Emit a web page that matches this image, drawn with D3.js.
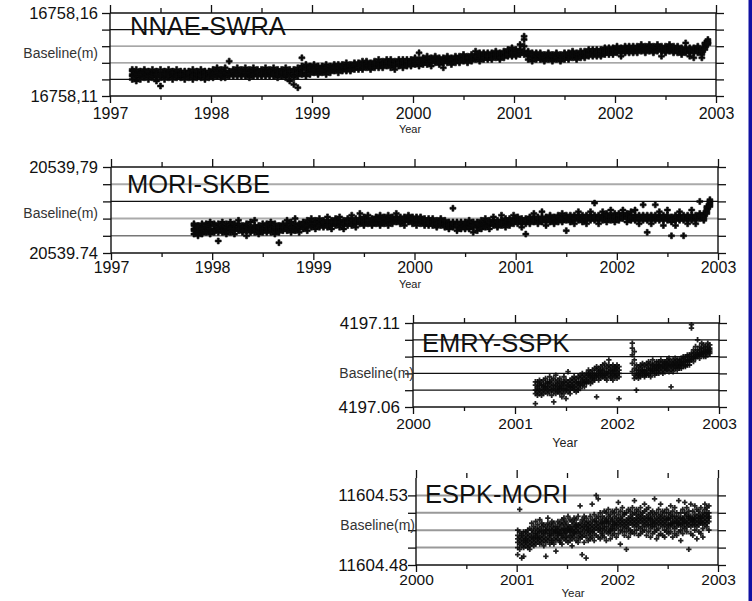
<!DOCTYPE html>
<html><head><meta charset="utf-8">
<script src="https://cdn.jsdelivr.net/npm/d3@7"></script>
<style>body{margin:0;background:#fff}svg{display:block;font-family:"Liberation Sans",Arial,sans-serif}</style>
</head><body><svg id="c" width="752" height="601"></svg>
<script>
// ---------- DATA ----------
const names = ["NNAE-SWRA","MORI-SKBE","EMRY-SSPK","ESPK-MORI"];
const bases = [16758.11, 20539.74, 4197.06, 11604.48];           // baseline (m) at the lowest tick
const yTickLabels = [["16758,11","16758,16"],["20539.74","20539,79"],["4197.06","4197.11"],["11604.48","11604.53"]];
const yearsLong = [1997,1998,1999,2000,2001,2002,2003];
const halfYearsLong = [1997.5,1998.5,1999.5,2000.5,2001.5,2002.5];
const yearsShort = [2000,2001,2002,2003];
const halfYearsShort = [2000.5,2001.5,2002.5];
// rows: [decimal year, baseline offsets in mm above base ...]
const p1Rows = [
[1997.22,13,10,15,12,16],[1997.26,14,11,13,16,9],[1997.30,12,15,10,14,13],[1997.34,15,12,11,14,16],[1997.38,13,10,14,12,15],
[1997.42,11,14,16,13,12],[1997.46,14,12,9,15,13],[1997.50,13,16,11,12,6],[1997.54,12,10,14,15,13],[1997.58,14,11,13,16,12],
[1997.62,12,15,10,13,14],[1997.66,13,11,14,12,16],[1997.70,11,14,12,15,13],[1997.74,14,12,10,13,15],[1997.78,12,15,13,11,14],
[1997.82,13,10,14,16,12],[1997.86,12,14,11,13,15],[1997.90,14,11,13,12,16],[1997.94,13,15,10,14,12],[1997.98,12,14,13,11,15],
[1998.02,14,12,16,13,11],[1998.06,13,15,12,14,17],[1998.10,12,14,16,11,13],[1998.14,15,13,11,14,17],[1998.18,14,12,15,13,21],
[1998.22,13,16,12,14,15],[1998.26,15,12,14,17,13],[1998.30,14,16,12,13,15],[1998.34,13,15,17,12,14],[1998.38,15,13,11,16,14],
[1998.42,14,17,12,15,13],[1998.46,16,13,15,12,14],[1998.50,14,12,16,15,13],[1998.54,15,13,17,14,12],[1998.58,13,16,14,12,15],
[1998.62,15,12,14,17,13],[1998.66,14,16,11,15,13],[1998.70,16,13,15,12,14],[1998.74,15,11,17,13,14],[1998.78,14,16,12,9,15],
[1998.82,13,16,15,11,7],[1998.86,15,12,17,14,5],[1998.90,16,14,13,18,23],[1998.94,17,14,16,12,19],[1998.98,15,18,13,16,17],
[1999.02,17,15,19,14,16],[1999.06,16,14,18,17,13],[1999.10,18,15,17,14,16],[1999.14,16,19,15,13,17],[1999.18,17,15,18,16,14],
[1999.22,15,18,16,19,17],[1999.26,18,16,14,17,19],[1999.30,17,19,16,15,18],[1999.34,16,18,20,17,15],[1999.38,19,17,15,18,16],
[1999.42,17,20,18,16,19],[1999.46,18,16,19,17,20],[1999.50,19,17,21,18,16],[1999.54,18,20,17,19,21],[1999.58,20,18,16,19,17],
[1999.62,19,21,18,17,20],[1999.66,18,20,19,22,17],[1999.70,20,18,21,19,17],[1999.74,19,22,20,18,21],[1999.78,21,19,17,20,22],
[1999.82,20,18,21,19,16],[1999.86,19,21,18,22,20],[1999.90,21,19,20,17,22],[1999.94,20,22,19,21,18],[1999.98,21,19,22,20,18],
[2000.02,20,22,19,21,23],[2000.06,22,20,18,21,26],[2000.10,21,23,20,19,22],[2000.14,20,22,21,24,19],[2000.18,22,20,23,21,18],
[2000.22,21,23,20,22,24],[2000.26,23,21,19,22,20],[2000.30,22,20,23,21,17],[2000.34,21,23,22,20,24],[2000.38,23,21,20,22,19],
[2000.42,22,24,21,23,20],[2000.46,24,22,20,23,21],[2000.50,23,21,24,22,25],[2000.54,22,24,21,23,20],[2000.58,24,22,25,23,21],
[2000.62,23,25,22,24,27],[2000.66,25,23,21,24,26],[2000.70,24,22,25,23,26],[2000.74,23,25,22,26,24],[2000.78,25,23,26,24,22],
[2000.82,24,26,23,25,27],[2000.86,26,24,22,25,23],[2000.90,25,27,24,26,23],[2000.94,26,24,27,25,28],[2000.98,25,27,24,26,29],
[2001.02,27,25,28,26,24],[2001.06,26,28,25,27,31],[2001.10,27,30,34,36,25],[2001.14,25,27,24,26,22],[2001.18,24,26,23,25,21],
[2001.22,25,23,26,24,22],[2001.26,23,25,22,24,26],[2001.30,24,22,25,23,21],[2001.34,23,25,24,22,26],[2001.38,25,23,22,24,21],
[2001.42,24,22,25,23,26],[2001.46,23,25,21,24,22],[2001.50,24,26,23,25,22],[2001.54,25,23,24,26,22],[2001.58,24,26,23,25,27],
[2001.62,25,23,26,24,22],[2001.66,26,24,25,27,23],[2001.70,25,27,24,26,23],[2001.74,26,24,27,25,28],[2001.78,25,27,26,24,28],
[2001.82,27,25,28,26,24],[2001.86,26,28,25,27,24],[2001.90,27,25,28,26,29],[2001.94,28,26,27,29,25],[2001.98,27,29,26,28,25],
[2002.02,28,26,29,27,30],[2002.06,27,29,28,26,24],[2002.10,29,27,30,28,26],[2002.14,28,30,27,29,26],[2002.18,29,27,28,30,26],
[2002.22,28,30,29,27,26],[2002.26,30,28,27,29,31],[2002.30,29,27,30,28,26],[2002.34,28,30,27,29,31],[2002.38,29,27,28,30,26],
[2002.42,28,30,29,27,31],[2002.46,30,28,27,29,24],[2002.50,29,27,30,28,26],[2002.54,28,30,27,29,31],[2002.58,29,27,28,30,26],
[2002.62,28,26,29,27,30],[2002.66,27,29,26,28,25],[2002.70,28,26,29,27,32],[2002.74,27,29,26,28,24],[2002.78,28,26,27,29,23],
[2002.82,27,29,26,28,30],[2002.86,26,28,25,27,23],[2002.89,29,31,30,32,28],[2002.92,32,33,31,34,32]
];
const p2Rows = [
[1997.82,14,11,16,13,17],[1997.86,13,16,12,15,10],[1997.90,15,12,17,14,11],[1997.94,13,17,15,12,16],[1997.98,16,13,11,14,18],
[1998.02,14,17,13,16,12],[1998.06,12,15,17,14,7],[1998.10,15,13,16,12,18],[1998.14,14,17,13,15,11],[1998.18,16,12,15,18,14],
[1998.22,13,16,14,11,17],[1998.26,15,13,17,14,19],[1998.30,14,16,12,15,13],[1998.34,16,13,15,17,10],[1998.38,13,15,18,14,12],
[1998.42,15,12,14,16,19],[1998.46,14,16,13,15,11],[1998.50,15,13,17,14,12],[1998.54,13,16,14,12,17],[1998.58,15,12,16,14,18],
[1998.62,14,17,13,15,11],[1998.66,16,13,15,12,6],[1998.70,14,16,13,17,15],[1998.74,15,13,17,14,19],[1998.78,16,14,12,15,18],
[1998.82,14,17,15,13,20],[1998.86,16,14,17,15,12],[1998.90,15,18,16,14,17],[1998.94,17,15,19,16,13],[1998.98,16,18,15,17,20],
[1999.02,18,16,19,17,14],[1999.06,17,15,18,16,20],[1999.10,16,19,17,15,18],[1999.14,18,16,15,19,21],[1999.18,17,19,16,18,14],
[1999.22,19,17,20,16,18],[1999.26,17,19,18,15,21],[1999.30,18,16,19,17,14],[1999.34,19,17,16,20,18],[1999.38,17,20,18,16,22],
[1999.42,19,17,20,18,15],[1999.46,18,20,17,19,23],[1999.50,19,17,21,18,16],[1999.54,18,20,17,19,22],[1999.58,20,18,16,19,17],
[1999.62,18,21,19,17,20],[1999.66,20,17,19,22,16],[1999.70,19,21,18,20,17],[1999.74,18,20,22,19,16],[1999.78,20,18,19,21,17],
[1999.82,19,21,18,20,23],[1999.86,21,19,17,20,18],[1999.90,19,21,20,18,16],[1999.94,20,18,21,19,22],[1999.98,19,21,18,20,17],
[2000.02,20,18,21,19,16],[2000.06,18,20,17,19,21],[2000.10,19,17,20,18,16],[2000.14,18,20,16,19,17],[2000.18,17,19,18,16,20],
[2000.22,18,16,19,17,15],[2000.26,17,19,16,18,20],[2000.30,16,18,17,15,19],[2000.34,17,15,18,16,14],[2000.38,16,18,15,17,26],
[2000.42,17,15,18,16,13],[2000.46,16,18,15,17,14],[2000.50,15,17,16,14,18],[2000.54,16,14,17,15,19],[2000.58,17,15,18,16,12],
[2000.62,16,18,15,17,13],[2000.66,17,15,19,16,14],[2000.70,18,16,17,15,20],[2000.74,17,19,16,18,14],[2000.78,18,16,19,17,21],
[2000.82,17,19,18,16,15],[2000.86,18,16,19,17,22],[2000.90,19,17,18,20,15],[2000.94,18,20,17,19,16],[2000.98,19,17,20,18,22],
[2001.02,18,20,19,17,21],[2001.06,19,17,20,18,15],[2001.10,18,20,17,19,11],[2001.14,19,21,18,20,17],[2001.18,20,18,21,19,23],
[2001.22,19,21,18,20,17],[2001.26,20,18,21,19,24],[2001.30,19,21,20,18,16],[2001.34,20,18,21,19,22],[2001.38,19,21,18,20,17],
[2001.42,20,22,19,21,18],[2001.46,21,19,20,18,23],[2001.50,20,22,19,21,13],[2001.54,19,21,20,18,22],[2001.58,21,19,22,20,17],
[2001.62,20,22,19,21,24],[2001.66,21,19,20,22,18],[2001.70,20,22,21,19,17],[2001.74,21,19,22,20,24],[2001.78,20,22,19,21,29],
[2001.82,21,19,22,20,17],[2001.86,22,20,21,19,24],[2001.90,21,23,20,22,18],[2001.94,20,22,21,19,25],[2001.98,22,20,23,21,18],
[2002.02,21,23,20,22,19],[2002.06,22,20,21,23,25],[2002.10,21,23,22,20,18],[2002.14,20,22,19,21,24],[2002.18,22,20,21,19,25],
[2002.22,21,19,22,20,17],[2002.26,20,22,19,21,28],[2002.30,21,19,20,22,12],[2002.34,20,22,21,19,17],[2002.38,19,21,20,22,28],
[2002.42,21,19,22,20,24],[2002.46,20,22,19,21,16],[2002.50,21,19,20,22,25],[2002.54,20,18,21,19,10],[2002.58,19,21,20,22,16],
[2002.62,21,19,22,20,24],[2002.66,20,22,19,21,10],[2002.70,21,19,20,22,17],[2002.74,20,22,21,19,25],[2002.78,22,20,19,21,17],
[2002.82,21,23,20,22,30],[2002.86,22,20,23,21,19],[2002.89,24,26,23,25,27],[2002.92,28,30,29,31,27]
];
const p3Rows = [
[2001.20,10,2,13,8,15],[2001.22,12,9,15,11,7],[2001.24,14,10,8,13,16],[2001.26,11,15,9,13,7],[2001.28,13,10,16,12,8],
[2001.30,9,14,11,17,12],[2001.32,12,8,15,10,14],[2001.34,15,11,9,13,18],[2001.36,10,14,12,7,16],[2001.38,13,9,17,11,3],
[2001.40,11,15,13,8,19],[2001.42,14,10,12,16,9],[2001.44,12,17,8,14,11],[2001.46,9,13,15,11,6],[2001.48,15,11,8,13,18],
[2001.50,11,14,10,16,5],[2001.52,13,9,15,12,21],[2001.54,16,12,10,14,8],[2001.56,12,15,11,17,13],[2001.58,14,10,16,12,18],
[2001.60,13,17,11,15,9],[2001.62,15,12,18,14,10],[2001.64,14,17,13,19,11],[2001.66,16,13,18,15,20],[2001.68,15,19,14,17,12],
[2001.70,18,15,20,16,14],[2001.72,17,20,15,19,22],[2001.74,19,16,21,18,14],[2001.76,18,22,17,20,15],[2001.78,20,17,23,19,16],
[2001.80,19,22,18,24,6],[2001.82,21,18,23,20,16],[2001.84,20,24,19,22,17],[2001.86,22,18,21,25,19],[2001.88,19,23,20,17,26],
[2001.90,21,18,24,20,16],[2001.92,23,19,21,25,28],[2001.94,20,24,18,22,17],[2001.96,22,19,25,21,16],[2001.98,21,24,18,23,19],
[2002.00,19,23,21,17,25],[2002.02,22,18,24,20,5],
[2002.15,21,26,31,35,38],[2002.17,19,23,28,33,17],[2002.19,22,18,25,20,10],[2002.21,20,24,19,22,17],[2002.23,23,19,21,25,18],
[2002.25,21,24,20,22,26],[2002.27,22,19,25,21,18],[2002.29,24,20,22,26,19],[2002.31,21,25,23,19,27],[2002.33,23,20,26,22,18],
[2002.35,22,25,21,24,28],[2002.37,24,21,26,23,19],[2002.39,23,27,22,25,20],[2002.41,25,22,24,27,20],[2002.43,23,26,21,24,28],
[2002.45,25,22,27,24,20],[2002.47,24,27,23,26,21],[2002.49,26,23,25,22,28],[2002.51,24,27,25,21,29],[2002.53,25,22,27,24,12],
[2002.55,26,23,25,28,21],[2002.57,24,27,26,23,29],[2002.59,26,24,28,25,22],[2002.61,25,28,24,27,23],[2002.63,27,25,29,26,23],
[2002.65,26,29,27,24,30],[2002.67,28,25,27,30,24],[2002.69,27,30,28,25,31],[2002.71,29,27,31,28,25],[2002.73,30,28,32,47,49],
[2002.75,29,32,30,34,27],[2002.77,31,29,33,30,36],[2002.79,32,30,34,31,40],[2002.81,31,34,32,36,29],[2002.83,33,31,35,32,38],
[2002.85,32,35,33,30,37],[2002.87,34,32,36,33,30],[2002.89,33,36,34,31,38],[2002.91,35,33,37,34,32]
];
const p4Rows = [
[2001.01,13,17,10,20,15,6],[2001.03,16,12,19,14,9,32],[2001.05,11,15,18,13,4,17],[2001.07,14,19,12,16,10,5],[2001.09,17,13,15,11,19,14],
[2001.11,12,16,20,14,10,18],[2001.13,15,11,17,13,21,9],[2001.15,18,14,12,20,16,24],[2001.17,13,19,16,11,22,15],[2001.19,17,14,21,18,12,25],
[2001.21,20,15,18,13,23,16],[2001.23,16,21,14,19,12,26],[2001.25,19,15,22,17,13,24],[2001.27,14,20,18,23,16,11],[2001.29,18,22,15,20,13,5],
[2001.31,21,16,19,14,24,27],[2001.33,17,23,20,15,18,12],[2001.35,20,14,22,17,25,13],[2001.37,15,19,24,18,12,21],[2001.39,19,22,16,20,14,8],
[2001.41,22,17,20,25,15,18],[2001.43,18,21,14,19,24,13],[2001.45,16,23,20,17,26,12],[2001.47,21,18,24,15,20,27],[2001.49,19,14,22,18,25,16],
[2001.51,23,20,16,21,13,28],[2001.53,17,22,19,26,14,20],[2001.55,20,25,17,22,15,11],[2001.57,24,18,21,16,27,19],[2001.59,18,22,26,20,14,23],
[2001.61,21,16,23,19,28,13],[2001.63,19,24,17,22,15,34],[2001.65,23,18,21,26,16,6],[2001.67,17,22,25,20,13,28],[2001.69,22,19,24,16,27,4],
[2001.71,20,25,18,23,14,21],[2001.73,24,17,22,19,28,15],[2001.75,19,23,26,21,16,35],[2001.77,22,18,25,20,29,14],[2001.79,25,21,17,23,27,40],
[2001.81,20,24,22,28,16,38],[2001.83,23,19,26,21,30,15],[2001.85,21,25,18,24,28,17],[2001.87,24,20,27,22,16,31],[2001.89,22,26,19,25,30,14],
[2001.91,25,21,24,28,18,32],[2001.93,20,27,23,19,29,15],[2001.95,26,22,25,21,31,17],[2001.97,23,28,20,24,18,30],[2001.99,25,21,27,23,32,16],
[2002.01,22,26,24,29,18,36],[2002.03,27,23,20,25,31,12],[2002.05,24,28,22,26,19,33],[2002.07,21,25,29,23,17,30],[2002.09,26,22,24,30,19,9],
[2002.11,23,27,21,25,32,16],[2002.13,28,24,26,20,31,18],[2002.15,25,29,23,27,19,33],[2002.17,22,26,30,24,18,37],[2002.19,27,23,25,29,20,32],
[2002.21,24,28,22,26,31,17],[2002.23,29,25,27,21,33,18],[2002.25,26,22,28,24,30,19],[2002.27,23,27,25,31,20,35],[2002.29,28,24,26,22,32,17],
[2002.31,25,29,23,27,19,33],[2002.33,27,23,26,30,21,16],[2002.35,24,28,22,25,31,18],[2002.37,26,22,29,24,19,38],[2002.39,23,27,25,30,20,15],
[2002.41,28,24,21,26,32,17],[2002.43,25,29,23,27,18,35],[2002.45,22,26,28,24,31,17],[2002.47,27,23,25,20,30,16],[2002.49,24,28,22,26,19,32],
[2002.51,26,21,27,23,30,18],[2002.53,23,27,24,29,19,34],[2002.55,25,22,28,24,31,16],[2002.57,28,24,21,26,18,33],[2002.59,24,27,25,22,30,17],
[2002.61,26,23,28,24,19,37],[2002.63,23,27,25,30,20,14],[2002.65,27,24,22,26,32,18],[2002.67,25,28,24,21,30,36],[2002.69,22,26,29,24,19,33],
[2002.71,27,23,25,28,31,9],[2002.73,24,28,22,26,18,35],[2002.75,26,23,27,25,31,17],[2002.77,23,27,25,29,20,34],[2002.79,28,24,26,22,32,15],
[2002.81,25,29,23,27,19,31],[2002.83,27,24,28,25,33,18],[2002.85,24,28,26,30,21,16],[2002.87,29,25,27,23,32,35],[2002.89,26,30,24,28,22,33],
[2002.91,28,25,30,27,34,20]
];
const allRows = [p1Rows, p2Rows, p3Rows, p4Rows];

// ---------- LAYOUT ----------
const B = "#111";
const layout = [
 {x0:110,x1:716,yb:96,yt:13,xd:[1997,2003],yrs:yearsLong,half:halfYearsLong,xfs:16,yfs:16.5,lp:4,bp:5,
  grid:[B,B,"#8a8a8a","#8a8a8a",B,B],gw:[1.3,1.4,1.3,1.3,1.4,1.3],
  title:[130,35],year:[410,133,11],bl:[98,58]},
 {x0:111,x1:718,yb:253,yt:167,xd:[1997,2003],yrs:yearsLong,half:halfYearsLong,xfs:16,yfs:16.5,lp:5,bp:2,
  grid:[B,"#777","#aaa",B,"#aaa",B],gw:[1.3,1.5,2,1.4,2,1.3],
  title:[127,193],year:[410,288,11],bl:[98,218]},
 {x0:413,x1:719,yb:407,yt:323,xd:[2000,2003],yrs:yearsShort,half:halfYearsShort,xfs:15.5,yfs:17,lp:5,bp:4,
  grid:[B,B,B,B,B,B],gw:[1.3,1.3,1.3,1.3,1.3,1.3],
  title:[422,352],year:[565,447,12.5],bl:[414,378]},
 {x0:416,x1:718,yb:565,yt:478,xd:[2000,2003],yrs:yearsShort,half:halfYearsShort,xfs:15.5,yfs:17,lp:0,bp:2,
  grid:[B,"#999","#999","#999","#999",B],gw:[1.3,2,2,2,2,1.3],
  title:[425,503],year:[573,597,11.5],bl:[415,530]}
];

const svg = d3.select("#c");
svg.append("rect").attr("width",752).attr("height",601).attr("fill","#fff");

layout.forEach((L,i)=>{
  const base = bases[i];
  const x = d3.scaleLinear().domain(L.xd).range([L.x0,L.x1]);
  const y = d3.scaleLinear().domain([base, base+0.05]).range([L.yb,L.yt]);
  const levels = y.ticks(5);
  const g = svg.append("g");

  // grid lines
  g.selectAll("line.grid").data(levels).join("line")
    .attr("x1",L.x0).attr("x2",L.x1).attr("y1",d=>y(d)).attr("y2",d=>y(d))
    .attr("stroke",(d,k)=>L.grid[k]).attr("stroke-width",(d,k)=>L.gw[k]);

  // points
  const pts = allRows[i].flatMap(r=>r.slice(1).map(v=>[r[0], base+v/1000]));
  const sym = d3.symbol(d3.symbolCross, i<2?20:16);
  g.append("g").selectAll("path").data(pts).join("path")
    .attr("d",sym).attr("transform",d=>`translate(${x(d[0])},${y(d[1])})`)
    .attr("fill", "#0a0a0a").attr("stroke", i<2?"#0a0a0a":"none").attr("stroke-width",0.6)
    .attr("fill-opacity", i<2?1:0.9);

  const styleAxis = (sel, fs)=>{
    sel.select(".domain").remove();
    sel.selectAll("line").attr("stroke",B).attr("stroke-width",1.3);
    sel.selectAll("text").attr("fill","#111").attr("font-size",fs)
      .attr("font-family",'"Liberation Sans",Arial,sans-serif');
  };
  // left axis
  g.append("g").attr("transform",`translate(${L.x0},0)`)
    .call(d3.axisLeft(y).tickValues(levels).tickSize(8).tickPadding(L.lp)
      .tickFormat((d,k)=> k===0?yTickLabels[i][0]:(k===levels.length-1?yTickLabels[i][1]:"")))
    .call(s=>styleAxis(s,L.yfs));
  // right axis
  g.append("g").attr("transform",`translate(${L.x1},0)`)
    .call(d3.axisRight(y).tickValues(levels).tickSize(8).tickFormat(""))
    .call(s=>styleAxis(s,10));
  // bottom axes
  g.append("g").attr("transform",`translate(0,${L.yb})`)
    .call(d3.axisBottom(x).tickValues(L.yrs).tickSize(7).tickPadding(L.bp).tickFormat(d3.format("d")))
    .call(s=>styleAxis(s,L.xfs));
  g.append("g").attr("transform",`translate(0,${L.yb})`)
    .call(d3.axisBottom(x).tickValues(L.half).tickSize(4).tickFormat(""))
    .call(s=>styleAxis(s,10));
  // top axes
  g.append("g").attr("transform",`translate(0,${L.yt})`)
    .call(d3.axisTop(x).tickValues(L.yrs).tickSize(8).tickFormat(""))
    .call(s=>styleAxis(s,10));
  g.append("g").attr("transform",`translate(0,${L.yt})`)
    .call(d3.axisTop(x).tickValues(L.half).tickSize(5).tickFormat(""))
    .call(s=>styleAxis(s,10));
  // frame verticals
  g.append("line").attr("x1",L.x0).attr("x2",L.x0).attr("y1",L.yt).attr("y2",L.yb).attr("stroke",B).attr("stroke-width",1.4);
  g.append("line").attr("x1",L.x1).attr("x2",L.x1).attr("y1",L.yt).attr("y2",L.yb).attr("stroke",B).attr("stroke-width",1.4);

  // title
  g.append("text").attr("x",L.title[0]).attr("y",L.title[1]).attr("font-size",25.5)
    .attr("fill","#111").text(names[i]);
  // Year
  g.append("text").attr("x",L.year[0]).attr("y",L.year[1]).attr("font-size",L.year[2])
    .attr("text-anchor","middle").attr("fill","#222").text("Year");
  // Baseline(m)
  g.append("text").attr("x",L.bl[0]).attr("y",L.bl[1]).attr("font-size",14)
    .attr("text-anchor","end").attr("fill","#333").text("Baseline(m)");
});

// blue window edge on the right
svg.append("rect").attr("x",748.5).attr("y",0).attr("width",3.5).attr("height",601).attr("fill","#1010a2");
</script></body></html>
